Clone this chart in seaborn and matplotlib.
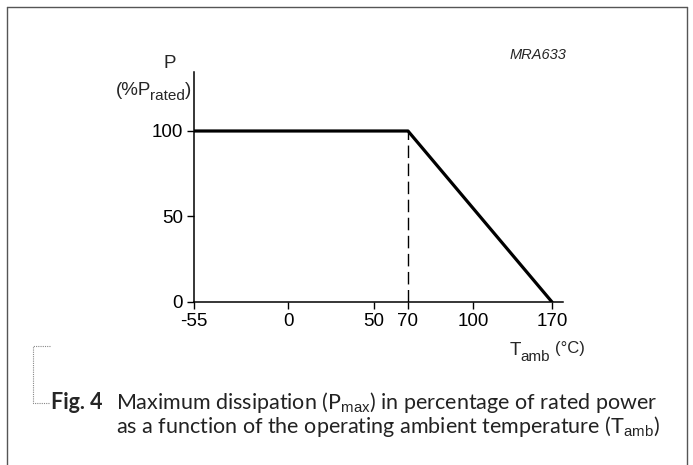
import numpy as np
import matplotlib
matplotlib.use("Agg")
import matplotlib.pyplot as plt
import seaborn as sns

# ---- data ----
temps = [-55, 70, 170]          # T_amb (°C)
power = [100, 100, 0]           # % P_rated
knee_temp = 70
xtick_vals = [-55, 0, 50, 70, 100, 170]
xtick_labels = ["-55", "0", "50", "70", "100", "170"]
ytick_vals = [0, 50, 100]
ytick_labels = ["0", "50", "100"]

# drawing is not to scale: piecewise-linear axis positions (pixels)
scale_knots = [-55, 0, 50, 70, 100, 170, 180]
scale_pos = [194, 288, 374, 408, 473, 552, 563]

sns.set_theme(style="white")
plt.rcParams["font.family"] = ["Liberation Sans", "DejaVu Sans"]
plt.rcParams["mathtext.fontset"] = "custom"
plt.rcParams["mathtext.rm"] = "Liberation Sans"
plt.rcParams["mathtext.it"] = "Liberation Sans:italic"

W, H = 693, 465
fig = plt.figure(figsize=(W / 100, H / 100), dpi=100)
fig.patch.set_facecolor("white")

ax = fig.add_axes([194 / W, 1 - 302 / H, (563 - 194) / W, (302 - 72) / H])

def fwd(x):
    return np.interp(x, scale_knots, scale_pos)

def inv(p):
    return np.interp(p, scale_pos, scale_knots)

ax.set_xscale("function", functions=(fwd, inv))

sns.lineplot(x=temps, y=power, ax=ax, color="black", linewidth=2.3, legend=False)
ax.plot([knee_temp, knee_temp], [0, 100], color="black", linewidth=1.0,
        linestyle=(0, (9, 4)))

ax.set_xlim(-55, 180)
ax.set_ylim(0, 134.5)
ax.set_xticks(xtick_vals)
ax.set_xticklabels(xtick_labels)
ax.set_yticks(ytick_vals)
ax.set_yticklabels(ytick_labels)
ax.tick_params(axis="both", direction="out", length=5, width=1.0, color="black",
               labelsize=13.5, labelcolor="black", pad=3, bottom=True, left=True)
ax.minorticks_off()
for s in ["top", "right"]:
    ax.spines[s].set_visible(False)
for s in ["left", "bottom"]:
    ax.spines[s].set_color("black")
    ax.spines[s].set_linewidth(1.1)
ax.set_facecolor("white")
ax.grid(False)

def px(x, y):
    return x / W, 1 - y / H

# y label
fig.text(*px(170, 63), "P", ha="center", va="center", fontsize=13.5)
fig.text(*px(116, 90), "(%P", ha="left", va="center", fontsize=13.5)
fig.text(*px(150, 96), "rated", ha="left", va="center", fontsize=11)
fig.text(*px(185, 90), ")", ha="left", va="center", fontsize=13.5)

# x label
fig.text(*px(510, 350), "T", ha="left", va="center", fontsize=13.5)
fig.text(*px(520, 357), "amb", ha="left", va="center", fontsize=11)
fig.text(*px(555, 349), "(°C)", ha="left", va="center", fontsize=12)

# code
fig.text(*px(538, 55), "MRA633", ha="center", va="center", fontsize=10.5, style="italic")

# frame
frame_kw = dict(color="#555555", linewidth=1.0, transform=fig.transFigure)
fig.add_artist(plt.Line2D([7 / W, 7 / W], [0, 1 - 7 / H], **frame_kw))
fig.add_artist(plt.Line2D([7 / W, 687 / W], [1 - 7 / H, 1 - 7 / H], **frame_kw))
fig.add_artist(plt.Line2D([687 / W, 687 / W], [0, 1 - 7 / H], **frame_kw))

# caption bracket (dotted)
br_kw = dict(color="#888888", linewidth=0.8, linestyle=(0, (1, 1)), transform=fig.transFigure)
fig.add_artist(plt.Line2D([50 / W, 33 / W, 33 / W, 50 / W],
                          [1 - 346 / H, 1 - 346 / H, 1 - 403 / H, 1 - 403 / H], **br_kw))

cap_font = ["Lato", "DejaVu Sans"]
cap_size = 15.5
fig.text(*px(51, 409), "Fig. 4", ha="left", va="baseline", fontsize=cap_size,
         fontweight="bold", family=cap_font)
fig.text(*px(116, 409), r"Maximum dissipation (P$_{\rm max}$) in percentage of rated power",
         ha="left", va="baseline", fontsize=cap_size, family=cap_font, color="#222222")
fig.text(*px(116, 433), r"as a function of the operating ambient temperature (T$_{\rm amb}$)",
         ha="left", va="baseline", fontsize=cap_size, family=cap_font, color="#222222")

fig.savefig("out.png", dpi=100, facecolor="white")
